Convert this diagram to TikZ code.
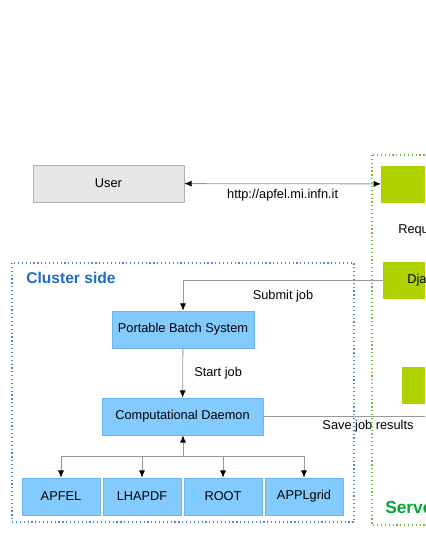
\documentclass[tikz,border=0pt]{standalone}
\usepackage{fontspec}
\setmainfont{Liberation Sans}
\usetikzlibrary{arrows.meta, positioning, calc}

\definecolor{userfill}{HTML}{E6E6E6}
\definecolor{userline}{HTML}{B3B3B3}
\definecolor{bluefill}{HTML}{83CAFF}
\definecolor{blueline}{HTML}{6DB3EE}
\definecolor{greenfill}{HTML}{B0D000}
\definecolor{clusterblue}{HTML}{1E6BC8}
\definecolor{framegreen}{HTML}{6CBE3C}
\definecolor{servergreen}{HTML}{00A933}
\definecolor{connline}{HTML}{999999}

\tikzset{
  userbox/.style={draw=userline, fill=userfill, minimum width=113.25pt, minimum height=27.75pt, inner sep=0pt},
  bluebox/.style={draw=blueline, fill=bluefill, minimum height=27.75pt, inner sep=0pt},
  greenbox/.style={fill=greenfill, minimum height=27.75pt, inner sep=0pt},
  conn/.style={draw=connline, line width=0.6pt},
  tip/.style={-{Latex[length=5.5pt,width=4.5pt,black]}},
  lbl/.style={inner sep=0pt}
}

\begin{document}
\begin{tikzpicture}[x=0.75pt, y=-0.75pt, font=\fontsize{9.6}{11}\selectfont]
\useasboundingbox (0,0) rectangle (425,550);
\clip (0,0) rectangle (425,550);

% frames
\draw [clusterblue!80!white, dotted, line width=0.9pt] (12,263) rectangle (354,522);
\draw [framegreen, dotted, line width=0.9pt] (372,155) rectangle (500,525);
\node [lbl, anchor=west, text=clusterblue, font=\fontsize{11.7}{13}\selectfont\bfseries] (clustertitle) at (26,278) {Cluster side};
\node [lbl, anchor=west, text=servergreen, font=\fontsize{13}{15}\selectfont\bfseries] (servertitle) at (385,507) {Server side};

% user and server
\node [userbox] (user) at (108.5,183.5) {User};
\node [greenbox, minimum width=90pt, anchor=west] (webserver) at (381,184) {};
\node [lbl, anchor=west] (request) at (398,230) {Request};
\node [greenbox, anchor=west, inner xsep=18pt] (django) at (383,280.5) {Django framework};
\node [greenbox, minimum width=90pt, anchor=west] (storage) at (402,385.5) {};

% cluster
\node [bluebox, minimum width=106.5pt] (pbs) at (183,329.5) {Portable Batch System};
\node [bluebox, minimum width=120.75pt] (daemon) at (182.5,416.5) {Computational Daemon};
\node [bluebox, minimum width=58.5pt] (apfel) at (61,496.5) {APFEL};
\node [bluebox, minimum width=58.5pt] (lhapdf) at (142,496.5) {LHAPDF};
\node [bluebox, minimum width=58.5pt] (root) at (223,496.5) {ROOT};
\node [bluebox, minimum width=58.5pt] (applgrid) at (304,496.5) {APPLgrid};

% connectors
\draw [conn, {Latex[length=5.5pt,width=4.5pt,black]}-{Latex[length=5.5pt,width=4.5pt,black]}] (user) -- node[lbl, below=4pt]{http://apfel.mi.infn.it} (webserver);
\draw [conn, tip] (django.west) -| (pbs.north);
\node [lbl] (submitlbl) at (283,296) {Submit job};
\draw [conn, tip] (pbs) -- (daemon);
\node [lbl, anchor=west] (startlbl) at (194,373) {Start job};
\coordinate (results) at (440,416);
\draw [conn] (daemon.east |- results) -- (results);
\node [lbl] (savelbl) at (368,426) {Save job results};

\coordinate (fork) at (183,456);
\draw [conn, tip] (fork) -- (fork |- daemon.south);
\draw [conn] (apfel |- fork) -- (applgrid |- fork);
\foreach \lib in {apfel, lhapdf, root, applgrid}
  \draw [conn, tip] (\lib |- fork) -- (\lib.north);
\end{tikzpicture}
\end{document}
